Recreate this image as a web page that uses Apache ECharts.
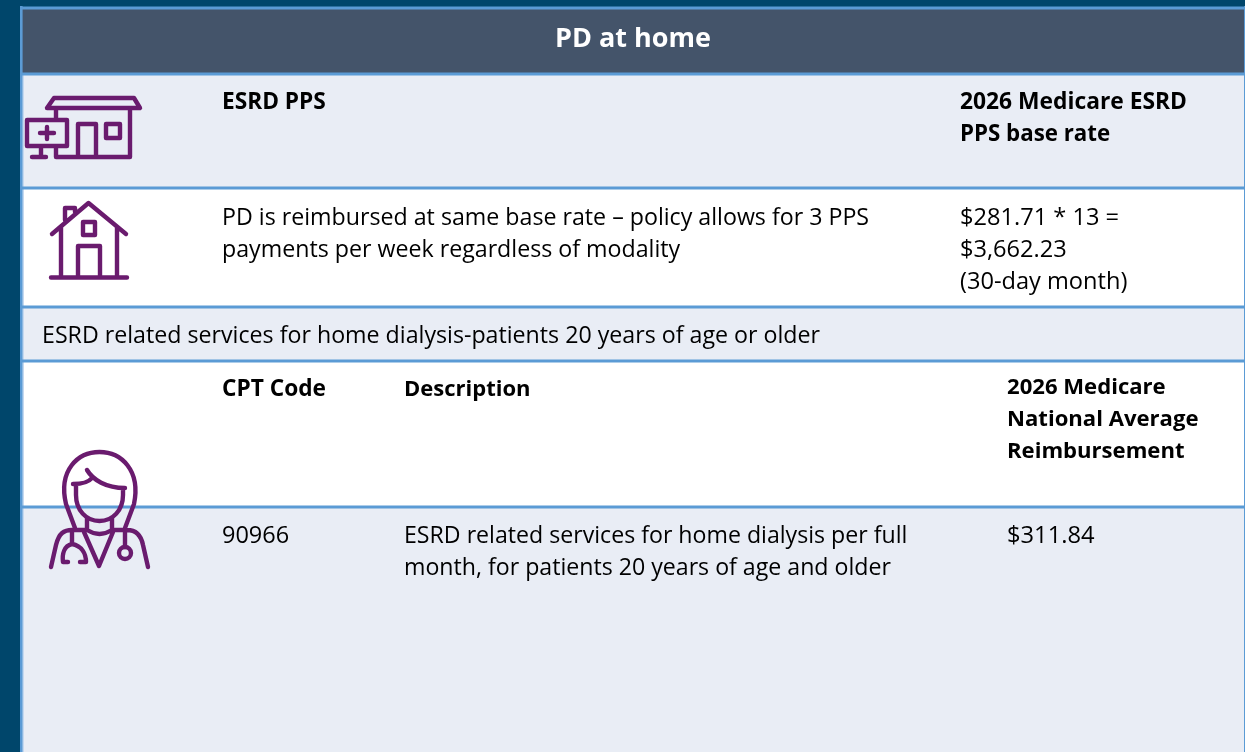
<!DOCTYPE html>
<html><head><meta charset="utf-8">
<style>html,body{margin:0;padding:0;background:#00466b}#c{width:1245px;height:752px}</style>
<script src="https://cdn.jsdelivr.net/npm/echarts@6/dist/echarts.min.js"></script>
</head><body><div id="c"></div>
<script>
const FONT = '"Open Sans"';
const titleText = 'PD at home';
// [text, left, top, bold, size]
const cellTexts = [
  ['ESRD PPS', 222, 87, true, 22.7],
  ['2026 Medicare ESRD', 960, 87, true, 22.8],
  ['PPS base rate', 960, 119, true, 22.3],
  ['PD is reimbursed at same base rate – policy allows for 3 PPS\npayments per week regardless of modality', 222, 202, false, 23.2],
  ['$281.71 * 13 =\n$3,662.23\n(30-day month)', 960, 202, false, 23.6],
  ['ESRD related services for home dialysis-patients 20 years of age or older', 42, 320, false, 23.2],
  ['CPT Code', 222, 374, true, 22.7],
  ['Description', 404, 374, true, 22],
  ['2026 Medicare\nNational Average\nReimbursement', 1007, 372, true, 22.1],
  ['90966', 222, 520, false, 23.5],
  ['ESRD related services for home dialysis per full\nmonth, for patients 20 years of age and older', 404, 520, false, 23.15],
  ['$311.84', 1007, 520, false, 23.7]
];
// [top, bottom, fill]
const rowBands = [
  [8, 74, '#44546a'],
  [74, 188, '#e9edf5'],
  [188, 307, '#ffffff'],
  [307, 361, '#e9edf5'],
  [361, 507, '#ffffff'],
  [507, 752, '#e9edf5']
];
const iconPaths = [
  // clinic
  'M54 98H134L140 108H47ZM56 108V120M56 146V157H130V108M78 157V124H96V157M106 124H120V138H106ZM27 120H67V146H27ZM40 133H54M47 127V139M41 146V157M32 157H46',
  // home
  'M52 234L88.5 203L126 234M61 227V277M117 227V277M51 277.5H127M78 277V246H100V277M83 222H95V235H83ZM65 220V208H75V212',
  // clinician
  'M75 528L66 504C58 470 78 452 99.5 452C121 452 141 470 134 504L125 528M73 484C80 484 88 483 92 478M87 470C93 480 106 488 125 488M76 484V495C76 510 86 521 99.5 521C113 521 123 510 123 495V488M87 518V530M112 518V530M51 567L56 545C59 533 64 530 72 530H87C95 535 104 535 112 530H127C136 530 141 535 143 545L148 567M84 532L99 566L113 532M72 530V544C64 546 62 554 63 562H68M72 544C82 546 86 554 86 562H80M125 530V547',
];
const stethoscopeEnd = { cx: 125, cy: 553, r: 6 };
const borderColor = '#5b9bd5';
const iconColor = '#6a1b6e';

iconPaths.forEach((p, i) => echarts.graphic.registerShape('icon' + i, echarts.graphic.extendPath(p)));

const graphic = [];
rowBands.forEach(b => {
  graphic.push({ type: 'rect', silent: true, shape: { x: 21, y: b[0], width: 1224, height: b[1] - b[0] }, style: { fill: b[2] } });
});
graphic.push({ type: 'rect', silent: true, shape: { x: 22.5, y: 75, width: 1.5, height: 677 }, style: { fill: '#c5d9f0' } });
rowBands.forEach(b => {
  graphic.push({ type: 'rect', silent: true, shape: { x: 21, y: b[0] - 1.5, width: 1224, height: 3 }, style: { fill: borderColor } });
});
graphic.push({ type: 'rect', silent: true, shape: { x: 20, y: 6, width: 2.6, height: 746 }, style: { fill: borderColor } });
graphic.push({ type: 'rect', silent: true, shape: { x: 1244, y: 6, width: 1, height: 746 }, style: { fill: borderColor } });
graphic.push({ type: 'text', silent: true, x: 633, y: 39, style: { text: titleText, fill: '#fff', font: 'bold 27px ' + FONT, textAlign: 'center', textVerticalAlign: 'middle' } });
cellTexts.forEach(t => {
  graphic.push({ type: 'text', silent: true, x: t[1], y: t[2], style: { text: t[0], fill: '#000', font: (t[3] ? 'bold ' : '') + t[4] + 'px ' + FONT, lineHeight: 32, textAlign: 'left', textVerticalAlign: 'top' } });
});
iconPaths.forEach((p, i) => {
  graphic.push({ type: 'icon' + i, silent: true, style: { fill: 'none', stroke: iconColor, lineWidth: 4.4, lineCap: 'round', lineJoin: 'round' } });
});
graphic.push({ type: 'circle', silent: true, shape: stethoscopeEnd, style: { fill: 'none', stroke: iconColor, lineWidth: 4.4 } });

const chart = echarts.init(document.getElementById('c'), null, { renderer: 'canvas' });
chart.setOption({ animation: false, backgroundColor: '#00466b', graphic: { elements: graphic } });
</script></body></html>
